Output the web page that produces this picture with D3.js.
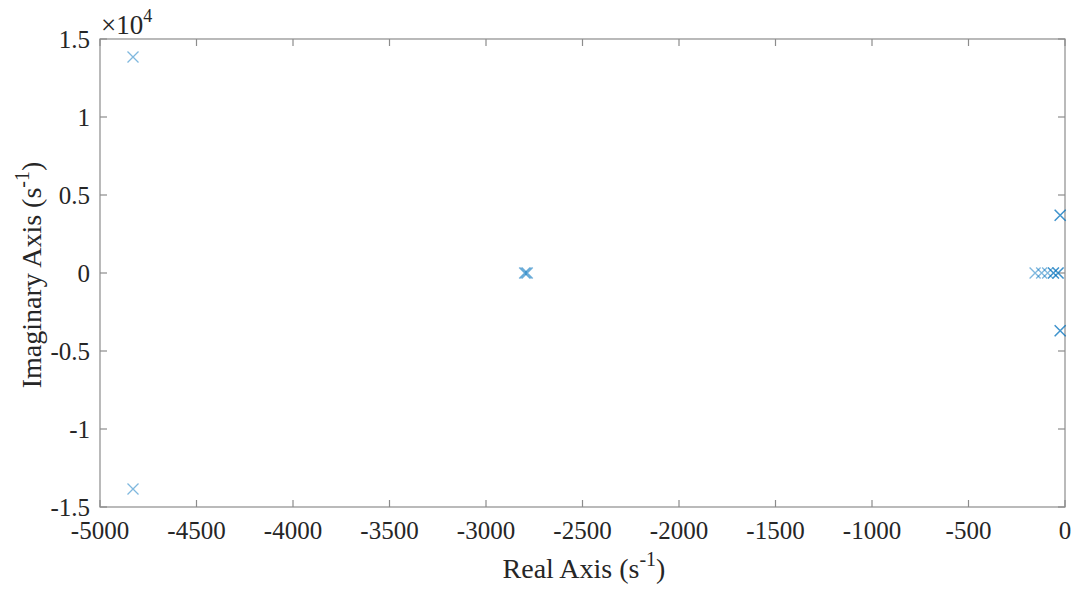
<!DOCTYPE html>
<html>
<head>
<meta charset="utf-8">
<script src="https://cdn.jsdelivr.net/npm/d3@7"></script>
<style>
  body { margin: 0; background: #fff; }
</style>
</head>
<body>
<svg id="chart" width="1075" height="590"></svg>
<script>
// pole locations (real, imag)
const poleRe = [-4829, -4829, -2800, -2793, -2786, -25, -25, -25, -25, -155, -121, -90, -60, -60, -36, -36];
const poleIm = [13850, -13850, 0, 0, 0, 3700, 3700, -3700, -3700, 0, 0, 0, 0, 0, 0, 0];

const xTicks = [-5000, -4500, -4000, -3500, -3000, -2500, -2000, -1500, -1000, -500, 0];
const yTicks = [-1.5e4, -1e4, -0.5e4, 0, 0.5e4, 1e4, 1.5e4];
const yTickLabels = ["-1.5", "-1", "-0.5", "0", "0.5", "1", "1.5"];

const margin = { left: 100, top: 39, right: 10, bottom: 83 };
const width = 1075, height = 590;
const svg = d3.select("#chart")
  .attr("font-family", "'Liberation Serif', 'Times New Roman', 'DejaVu Serif', serif");

const x = d3.scaleLinear().domain([-5000, 0]).range([margin.left, width - margin.right]);
const y = d3.scaleLinear().domain([-1.5e4, 1.5e4]).range([height - margin.bottom, margin.top]);

const axisColor = "#8c8c8c";
const textColor = "#262626";
const tickLen = 7;

// box
svg.append("rect")
  .attr("x", x(-5000)).attr("y", y(1.5e4))
  .attr("width", x(0) - x(-5000)).attr("height", y(-1.5e4) - y(1.5e4))
  .attr("fill", "none").attr("stroke", axisColor).attr("stroke-width", 1.2);

// x ticks (bottom and top, pointing in)
const gx = svg.append("g");
xTicks.forEach(t => {
  gx.append("line").attr("x1", x(t)).attr("x2", x(t))
    .attr("y1", y(-1.5e4)).attr("y2", y(-1.5e4) - tickLen)
    .attr("stroke", axisColor).attr("stroke-width", 1.2);
  gx.append("line").attr("x1", x(t)).attr("x2", x(t))
    .attr("y1", y(1.5e4)).attr("y2", y(1.5e4) + tickLen)
    .attr("stroke", axisColor).attr("stroke-width", 1.2);
  gx.append("text").attr("x", x(t)).attr("y", y(-1.5e4) + 32)
    .attr("text-anchor", "middle").attr("font-size", 25).attr("fill", textColor).text(t);
});

// y ticks (left and right)
const gy = svg.append("g");
yTicks.forEach((t, i) => {
  gy.append("line").attr("x1", x(-5000)).attr("x2", x(-5000) + tickLen)
    .attr("y1", y(t)).attr("y2", y(t))
    .attr("stroke", axisColor).attr("stroke-width", 1.2);
  gy.append("line").attr("x1", x(0)).attr("x2", x(0) - tickLen)
    .attr("y1", y(t)).attr("y2", y(t))
    .attr("stroke", axisColor).attr("stroke-width", 1.2);
  gy.append("text").attr("x", x(-5000) - 10).attr("y", y(t) + 9)
    .attr("text-anchor", "end").attr("font-size", 25).attr("fill", textColor).text(yTickLabels[i]);
});

// exponent label
const ex = svg.append("text").attr("x", x(-5000) + 1).attr("y", 34)
  .attr("font-size", 27).attr("fill", textColor);
ex.append("tspan").text("\u00d710");
ex.append("tspan").attr("dy", -12).attr("font-size", 18).text("4");

// axis labels
const xl = svg.append("text").attr("x", 584).attr("y", 578)
  .attr("text-anchor", "middle").attr("font-size", 28).attr("fill", textColor);
xl.append("tspan").text("Real Axis (s");
xl.append("tspan").attr("dy", -12).attr("font-size", 20).text("-1");
xl.append("tspan").attr("dy", 12).text(")");

const yl = svg.append("text")
  .attr("transform", `translate(41, 275) rotate(-90)`)
  .attr("text-anchor", "middle").attr("font-size", 28).attr("fill", textColor);
yl.append("tspan").text("Imaginary Axis (s");
yl.append("tspan").attr("dy", -12).attr("font-size", 20).text("-1");
yl.append("tspan").attr("dy", 12).text(")");

// pole markers
const s = 5.5;
const poles = poleRe.map((r, i) => ({ re: r, im: poleIm[i] }));
svg.append("g").selectAll("path").data(poles).join("path")
  .attr("d", d => {
    const cx = x(d.re), cy = y(d.im);
    return `M${cx - s},${cy - s}L${cx + s},${cy + s}M${cx - s},${cy + s}L${cx + s},${cy - s}`;
  })
  .attr("fill", "none")
  .attr("stroke", "#0072BD")
  .attr("stroke-opacity", 0.5)
  .attr("stroke-width", 1.3);
</script>
</body>
</html>
